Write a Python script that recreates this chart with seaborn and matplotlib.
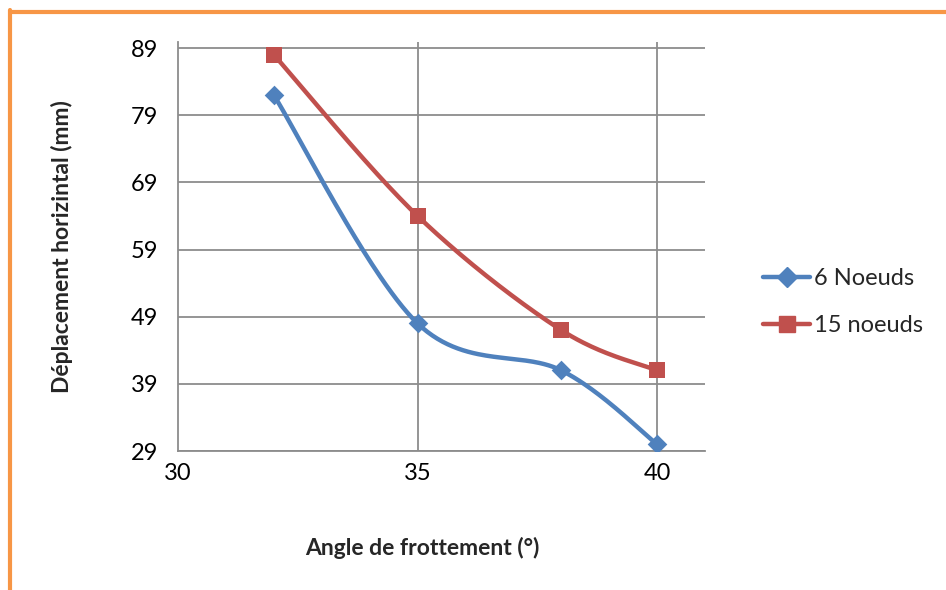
import numpy as np
import pandas as pd
import matplotlib
matplotlib.use("Agg")
import matplotlib.pyplot as plt
import seaborn as sns
from matplotlib.lines import Line2D

# data
angles = [32, 35, 38, 40]
noeuds6 = [82, 48, 41, 30]
noeuds15 = [88, 64, 47, 41]
x_ticks = [30, 35, 40]
y_ticks = [29, 39, 49, 59, 69, 79, 89]

blue = "#4F81BD"
red = "#C0504D"
grid_col = "#8C8C8C"


def smoothCurve(xs, ys, n=60):
    # catmull-rom style smoothing (like excel "smoothed line")
    xs = np.asarray(xs, float)
    ys = np.asarray(ys, float)
    px = np.concatenate([[xs[0]], xs, [xs[-1]]])
    py = np.concatenate([[ys[0]], ys, [ys[-1]]])
    outx, outy = [], []
    for i in range(1, len(px) - 2):
        p0 = np.array([px[i - 1], py[i - 1]])
        p1 = np.array([px[i], py[i]])
        p2 = np.array([px[i + 1], py[i + 1]])
        p3 = np.array([px[i + 2], py[i + 2]])
        c1 = p1 + (p2 - p0) / 6.0
        c2 = p2 - (p3 - p1) / 6.0
        t = np.linspace(0, 1, n)[:, None]
        b = ((1 - t) ** 3) * p1 + 3 * ((1 - t) ** 2) * t * c1 + 3 * (1 - t) * t ** 2 * c2 + t ** 3 * p2
        outx.extend(b[:, 0])
        outy.extend(b[:, 1])
    return np.array(outx), np.array(outy)


sns.set_style("white")
plt.rcParams["font.family"] = ["Lato", "DejaVu Sans"]

fig = plt.figure(figsize=(9.46, 5.90), dpi=100)
ax = fig.add_axes([178 / 946, 1 - 451 / 590, (705 - 178) / 946, (451 - 42) / 590])

series = [("6 Noeuds", noeuds6, blue, "D", 10), ("15 noeuds", noeuds15, red, "s", 12)]
for name, vals, col, mk, ms in series:
    sx, sy = smoothCurve(angles, vals)
    curve = pd.DataFrame({"x": sx, "y": sy})
    sns.lineplot(data=curve, x="x", y="y", sort=False, estimator=None, ax=ax,
                 color=col, linewidth=3.2, zorder=3)
    pts = pd.DataFrame({"x": angles, "y": vals})
    sns.scatterplot(data=pts, x="x", y="y", ax=ax, marker=mk, s=ms ** 2,
                    color=col, edgecolor=col, linewidth=0, zorder=4)

ax.set_xlim(30, 41)
ax.set_ylim(29, 89.9)
ax.set_xticks(x_ticks)
ax.set_yticks(y_ticks)
for yv in y_ticks:
    ax.axhline(yv, color=grid_col, linewidth=1.3, zorder=1)
for xv in x_ticks[1:]:
    ax.axvline(xv, color=grid_col, linewidth=1.3, zorder=1)

for side in ["top", "right"]:
    ax.spines[side].set_visible(False)
for side in ["left", "bottom"]:
    ax.spines[side].set_color(grid_col)
    ax.spines[side].set_linewidth(1.3)
ax.tick_params(axis="both", direction="out", length=6, width=1.3, color=grid_col,
               labelsize=17, labelcolor="black")
ax.tick_params(axis="x", pad=3)
ax.tick_params(axis="y", pad=8)

ax.set_xlabel("Angle de frottement (°)", fontsize=16.5, fontweight="bold")
ax.set_ylabel("Déplacement horizintal (mm)", fontsize=16.5, fontweight="bold")
ax.xaxis.set_label_coords((422 - 178) / 527, -(548 - 451) / 409, transform=ax.transAxes)
ax.yaxis.set_label_coords(-(178 - 62) / 527, 0.5, transform=ax.transAxes)
ax.xaxis.label.set_va("center")
ax.yaxis.label.set_va("center")

handles = [Line2D([], [], color=blue, linewidth=3.2, marker="D", markersize=10),
           Line2D([], [], color=red, linewidth=3.2, marker="s", markersize=12)]
fig.legend(handles, ["6 Noeuds", "15 noeuds"], loc="center left",
           bbox_to_anchor=(742 / 946, 1 - 302 / 590), frameon=False,
           fontsize=17, handlelength=2.0, handletextpad=0.15, labelspacing=1.1)

# orange frame (top and left edges visible)
orange = "#F79646"
fig.add_artist(Line2D([10 / 946, 1.0], [1 - 11.5 / 590, 1 - 11.5 / 590],
                      transform=fig.transFigure, color=orange, linewidth=3))
fig.add_artist(Line2D([10 / 946, 10 / 946], [1 - 10 / 590, 0.0],
                      transform=fig.transFigure, color=orange, linewidth=3))

fig.savefig("out.png", dpi=100)
